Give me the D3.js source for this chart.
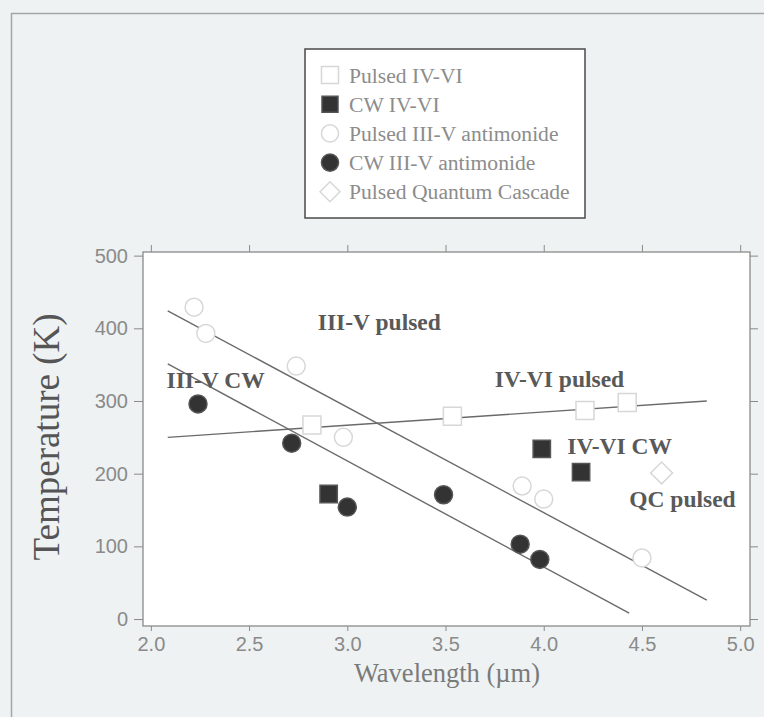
<!DOCTYPE html>
<html>
<head>
<meta charset="utf-8">
<script src="https://cdn.jsdelivr.net/npm/d3@7"></script>
<style>
  body { margin: 0; background: #eef2f3; }
  svg { display: block; }
  .tick text { font-family: "Liberation Sans", Arial, sans-serif; font-size: 20px; fill: #8a8a8a; }
  .tick line { stroke: #8a8a8a; }
</style>
</head>
<body>
<div class="chart"></div>
<script>
// values: wavelength (um) and max operating temperature (K)
var pulsedIVVI_wl = [2.82, 3.535, 4.21, 4.425],
  pulsedIVVI_T = [267, 279, 287, 298];
var cwIVVI_wl = [2.905, 3.99, 4.19],
  cwIVVI_T = [172, 234, 202];
var pulsedIIIV_wl = [2.22, 2.28, 2.74, 2.98, 3.89, 4.0, 4.5],
  pulsedIIIV_T = [429, 393, 348, 250, 183, 165, 84];
var cwIIIV_wl = [2.24, 2.717, 3.0, 3.49, 3.88, 3.98],
  cwIIIV_T = [296, 242, 154, 171, 103, 82];
var pulsedQC_wl = [4.6],
  pulsedQC_T = [201];

// trend lines, [wavelength, temperature] end points
var fitIIIVPulsed = [[2.086, 424], [4.83, 26]];
var fitIIIVCW = [[2.086, 351], [4.435, 8]];
var fitIVVIPulsed = [[2.086, 250], [4.83, 300]];

var annotations = ['III-V pulsed', 'III-V CW', 'IV-VI pulsed', 'IV-VI CW', 'QC pulsed'];
var annotationWl = [2.85, 2.08, 3.75, 4.12, 4.435];
var annotationT = [409, 329, 330, 239, 165];

var legendLabels = ['Pulsed IV-VI', 'CW IV-VI', 'Pulsed III-V antimonide', 'CW III-V antimonide', 'Pulsed Quantum Cascade'];

var xTicks = [2.0, 2.5, 3.0, 3.5, 4.0, 4.5, 5.0];
var yTicks = [0, 100, 200, 300, 400, 500];

var W = 764, H = 717,
  margin = { top: 252, left: 143, right: 14, bottom: 91 };
var w = W - margin.left - margin.right,
  h = H - margin.top - margin.bottom;

var svg = d3.select('.chart')
  .append('svg')
  .attr('width', W)
  .attr('height', H);

// outer frame of the figure
svg.append('path')
  .attr('d', 'M11.5,' + H + 'V13.5H' + W)
  .attr('fill', 'none')
  .attr('stroke', '#a3a6a7')
  .attr('stroke-width', 1.5);

var x = d3.scaleLinear().domain([1.96, 5.05]).range([0, w]);
var y = d3.scaleLinear().domain([-9.6, 505]).range([h, 0]);

var g = svg.append('g')
  .attr('transform', 'translate(' + margin.left + ',' + margin.top + ')');

g.append('rect')
  .attr('width', w)
  .attr('height', h)
  .attr('fill', '#fff');

// axes, ticks on all four sides
var fmt = d3.format('.1f');
g.append('g')
  .attr('transform', 'translate(0,' + h + ')')
  .call(d3.axisBottom(x).tickValues(xTicks).tickFormat(fmt).tickSize(5).tickPadding(6));
g.append('g')
  .call(d3.axisTop(x).tickValues(xTicks).tickFormat('').tickSize(7));
g.append('g')
  .call(d3.axisLeft(y).tickValues(yTicks).tickSize(9).tickPadding(6));
g.append('g')
  .attr('transform', 'translate(' + w + ',0)')
  .call(d3.axisRight(y).tickValues(yTicks).tickFormat('').tickSize(8));
g.selectAll('.domain').remove();

g.append('rect')
  .attr('width', w)
  .attr('height', h)
  .attr('fill', 'none')
  .attr('stroke', '#8a8a8a')
  .attr('stroke-width', 1.3);

// trend lines
var line = d3.line()
  .x(function (d) { return x(d[0]); })
  .y(function (d) { return y(d[1]); });
[fitIIIVPulsed, fitIIIVCW, fitIVVIPulsed].forEach(function (f) {
  g.append('path')
    .attr('d', line(f))
    .attr('fill', 'none')
    .attr('stroke', '#6a6a6a')
    .attr('stroke-width', 1.4);
});

// series styles
var openFill = '#fff', openStroke = '#d6d8d8', darkFill = '#333';
var series = [
  { wl: pulsedIVVI_wl, T: pulsedIVVI_T, type: d3.symbolSquare, size: 324, fill: openFill, stroke: openStroke, rot: 0 },
  { wl: cwIVVI_wl, T: cwIVVI_T, type: d3.symbolSquare, size: 300, fill: darkFill, stroke: '#555', rot: 0 },
  { wl: pulsedIIIV_wl, T: pulsedIIIV_T, type: d3.symbolCircle, size: 254, fill: openFill, stroke: openStroke, rot: 0 },
  { wl: cwIIIV_wl, T: cwIIIV_T, type: d3.symbolCircle, size: 254, fill: darkFill, stroke: '#555', rot: 0 },
  { wl: pulsedQC_wl, T: pulsedQC_T, type: d3.symbolSquare, size: 240, fill: openFill, stroke: openStroke, rot: 45 }
];

// annotations (drawn under markers, lines go over the "III-V CW" text)
g.selectAll('text.note')
  .data(annotations)
  .enter()
  .append('text')
  .attr('class', 'note')
  .attr('x', function (d, i) { return x(annotationWl[i]); })
  .attr('y', function (d, i) { return y(annotationT[i]); })
  .attr('dy', '0.35em')
  .attr('font-family', '"Liberation Serif", "Times New Roman", serif')
  .attr('font-weight', 'bold')
  .attr('font-size', 23.5)
  .attr('fill', '#595959')
  .text(function (d) { return d; });

series.forEach(function (s) {
  g.append('g')
    .selectAll('path')
    .data(s.wl)
    .enter()
    .append('path')
    .attr('d', d3.symbol().type(s.type).size(s.size))
    .attr('transform', function (d, i) {
      return 'translate(' + x(d) + ',' + y(s.T[i]) + ') rotate(' + s.rot + ')';
    })
    .attr('fill', s.fill)
    .attr('stroke', s.stroke)
    .attr('stroke-width', 1.5);
});

// axis titles
svg.append('text')
  .attr('transform', 'translate(46,437) rotate(-90)')
  .attr('text-anchor', 'middle')
  .attr('dy', '0.35em')
  .attr('font-family', '"Liberation Serif", "Times New Roman", serif')
  .attr('font-size', 37)
  .attr('fill', '#555')
  .text('Temperature (K)');

svg.append('text')
  .attr('x', 447)
  .attr('y', 673)
  .attr('text-anchor', 'middle')
  .attr('dy', '0.35em')
  .attr('font-family', '"Liberation Serif", "Times New Roman", serif')
  .attr('font-size', 26.5)
  .attr('fill', '#7a7a7a')
  .text('Wavelength (\u00b5m)');

// legend
var legend = svg.append('g')
  .attr('transform', 'translate(305,49)');
legend.append('rect')
  .attr('width', 280)
  .attr('height', 169)
  .attr('fill', '#fff')
  .attr('stroke', '#4a4a4a')
  .attr('stroke-width', 1.5);

var legendSize = [289, 256, 230, 230, 200];
var item = legend.selectAll('g.item')
  .data(legendLabels)
  .enter()
  .append('g')
  .attr('class', 'item')
  .attr('transform', function (d, i) { return 'translate(0,' + (26 + i * 29.2) + ')'; });

item.append('path')
  .attr('d', function (d, i) { return d3.symbol().type(series[i].type).size(legendSize[i])(); })
  .attr('transform', function (d, i) { return 'translate(25,0) rotate(' + series[i].rot + ')'; })
  .attr('fill', function (d, i) { return series[i].fill; })
  .attr('stroke', function (d, i) { return series[i].stroke; })
  .attr('stroke-width', 1.5);

item.append('text')
  .attr('x', 44)
  .attr('dy', '0.35em')
  .attr('font-family', '"Liberation Serif", "Times New Roman", serif')
  .attr('font-size', 21.6)
  .attr('fill', '#8c8c8c')
  .text(function (d) { return d; });
</script>
</body>
</html>
